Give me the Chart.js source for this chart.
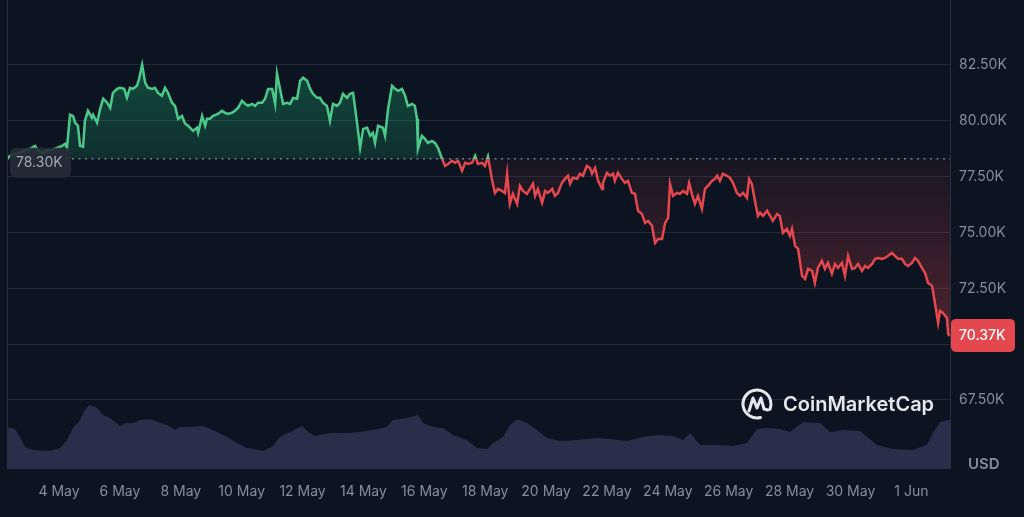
<!DOCTYPE html>
<html>
<head>
<meta charset="utf-8">
<script src="https://cdn.jsdelivr.net/npm/chart.js@4.4.1/dist/chart.umd.min.js"></script>
<style>
  html, body { margin: 0; padding: 0; background: #0d1421; }
  #wrap { width: 1024px; height: 517px; position: relative; }
</style>
</head>
<body>
<div id="wrap"><canvas id="priceChart"></canvas></div>
<script>
// ---- Data (x = day of month, May; 32 = 1 Jun) ----

const xTickDays = [4, 6, 8, 10, 12, 14, 16, 18, 20, 22, 24, 26, 28, 30, 32];
const xTickLabels = ['4 May', '6 May', '8 May', '10 May', '12 May', '14 May', '16 May', '18 May',
  '20 May', '22 May', '24 May', '26 May', '28 May', '30 May', '1 Jun'];
const yTicks = [67.5, 70, 72.5, 75, 77.5, 80, 82.5]; // thousands USD

const openPrice = 78.30;
const lastPrice = 70.37;

// [day, price in K USD]
const priceSeries = [
  [2.29,78.30],[2.39,78.43],[2.55,78.52],[2.72,78.57],[2.88,78.66],[3.05,78.75],[3.21,78.88],[3.31,78.66],
  [3.44,78.57],[3.61,78.66],[3.77,78.70],[3.93,78.79],[4.10,78.88],[4.20,78.97],[4.26,78.79],[4.36,80.27],
  [4.46,80.22],[4.53,79.91],[4.62,79.78],[4.69,78.88],[4.79,78.84],[4.85,80.00],[4.95,80.45],[5.08,80.13],
  [5.12,80.27],[5.25,79.91],[5.35,80.54],[5.45,80.99],[5.58,80.81],[5.68,80.58],[5.77,81.25],[5.91,81.43],
  [6.00,81.48],[6.14,81.43],[6.23,81.03],[6.33,81.48],[6.43,81.43],[6.56,81.57],[6.63,81.88],[6.73,82.51],
  [6.83,81.70],[6.92,81.48],[7.06,81.43],[7.15,81.48],[7.25,81.25],[7.38,81.12],[7.48,81.48],[7.58,81.25],
  [7.71,80.81],[7.81,80.67],[7.91,80.09],[8.04,80.22],[8.14,79.87],[8.24,79.78],[8.40,79.55],[8.53,79.69],
  [8.57,79.46],[8.70,80.22],[8.80,79.78],[8.86,80.09],[8.96,80.09],[9.06,80.22],[9.22,80.31],[9.35,80.45],
  [9.45,80.36],[9.55,80.31],[9.68,80.36],[9.78,80.45],[9.88,80.58],[10.01,80.90],[10.11,80.76],[10.21,80.67],
  [10.34,80.76],[10.44,80.67],[10.54,80.81],[10.67,80.81],[10.77,80.99],[10.87,81.43],[11.00,81.43],[11.10,80.76],
  [11.16,82.11],[11.26,81.43],[11.36,80.76],[11.49,80.81],[11.59,80.76],[11.69,81.03],[11.82,80.99],[11.92,81.79],
  [12.02,81.93],[12.15,81.79],[12.25,81.43],[12.34,81.21],[12.48,81.03],[12.57,81.03],[12.67,80.81],[12.80,80.67],
  [12.90,80.00],[13.00,80.76],[13.13,80.67],[13.23,80.81],[13.33,81.21],[13.46,81.03],[13.56,81.21],[13.66,81.25],
  [13.79,79.91],[13.89,78.79],[13.99,79.64],[14.12,79.69],[14.22,79.33],[14.31,79.46],[14.38,79.01],[14.48,79.78],
  [14.64,79.69],[14.71,79.33],[14.81,80.54],[14.94,81.57],[15.04,81.43],[15.14,81.34],[15.27,81.43],[15.37,81.12],
  [15.46,80.67],[15.60,80.76],[15.69,80.67],[15.76,80.09],[15.79,78.75],[15.92,79.33],[16.02,79.19],[16.12,79.01],
  [16.25,79.10],[16.35,79.01],[16.45,78.79],[16.58,78.30],[16.68,77.98],[16.78,78.07],[16.91,78.21],[17.01,78.12],
  [17.11,78.21],[17.24,77.76],[17.34,78.12],[17.44,78.07],[17.57,78.12],[17.67,78.43],[17.76,78.07],[17.90,78.12],
  [17.99,77.98],[18.09,78.40],[18.22,77.40],[18.32,76.77],[18.42,76.95],[18.55,76.86],[18.65,76.77],[18.72,77.63],
  [18.81,76.28],[18.91,76.73],[19.05,76.28],[19.14,77.09],[19.24,76.86],[19.37,76.73],[19.47,76.95],[19.57,77.18],
  [19.64,76.64],[19.73,76.95],[19.87,76.33],[19.97,76.86],[20.06,76.77],[20.20,76.95],[20.29,76.64],[20.39,76.77],
  [20.52,77.22],[20.62,77.40],[20.72,77.54],[20.79,77.18],[20.88,77.45],[21.02,77.40],[21.11,77.63],[21.21,77.54],
  [21.34,77.98],[21.44,77.89],[21.51,77.63],[21.61,77.89],[21.71,77.31],[21.84,76.95],[21.87,77.22],[22.00,77.67],
  [22.10,77.54],[22.20,77.63],[22.26,77.31],[22.36,77.67],[22.49,77.40],[22.59,77.22],[22.69,77.31],[22.82,76.77],
  [22.92,76.73],[23.02,75.97],[23.15,75.83],[23.25,75.43],[23.35,75.52],[23.48,75.30],[23.58,74.53],[23.68,74.71],
  [23.81,74.71],[23.91,75.43],[24.01,75.65],[24.07,77.18],[24.17,76.64],[24.30,76.77],[24.40,76.73],[24.50,76.86],
  [24.63,76.73],[24.70,77.22],[24.79,76.73],[24.89,76.28],[24.99,76.64],[25.12,76.06],[25.22,76.95],[25.32,77.09],
  [25.45,77.31],[25.55,77.40],[25.62,77.54],[25.71,77.31],[25.81,77.63],[25.94,77.54],[26.04,77.45],[26.14,77.22],
  [26.27,76.77],[26.37,76.64],[26.47,76.77],[26.60,76.55],[26.67,77.40],[26.76,77.18],[26.86,76.42],[26.96,75.74],
  [27.03,75.88],[27.13,75.74],[27.26,75.97],[27.36,75.74],[27.45,75.52],[27.59,75.83],[27.68,75.74],[27.78,74.98],
  [27.91,75.16],[28.01,74.85],[28.08,75.16],[28.18,74.40],[28.28,74.27],[28.41,73.06],[28.51,72.92],[28.61,73.37],
  [28.74,73.28],[28.83,72.74],[28.93,73.41],[29.06,73.73],[29.16,73.37],[29.26,73.64],[29.39,73.15],[29.49,73.59],
  [29.59,73.41],[29.72,73.64],[29.82,73.06],[29.92,73.95],[30.05,73.37],[30.15,73.41],[30.25,73.59],[30.38,73.28],
  [30.48,73.50],[30.58,73.41],[30.71,73.59],[30.81,73.82],[30.90,73.86],[31.04,73.82],[31.13,73.86],[31.23,73.95],
  [31.36,74.09],[31.46,73.95],[31.56,73.82],[31.69,73.82],[31.79,73.59],[31.89,73.50],[32.02,73.64],[32.12,73.86],
  [32.22,73.73],[32.35,73.41],[32.45,73.19],[32.55,72.74],[32.68,72.61],[32.78,71.80],[32.88,70.95],[32.94,71.49],
  [33.04,71.40],[33.17,71.17],[33.21,70.46],[33.27,70.37]
];

// [day, 24h volume in B USD]
const volumeSeries = [
  [2.29,21],[2.55,20],[2.72,16],[2.88,11],[3.15,9.5],[3.70,9],[4.03,10.5],[4.26,14.5],[4.46,20.5],[4.69,24.5],
  [4.85,29.5],[4.99,32],[5.25,30.5],[5.45,27],[5.68,25.5],[5.84,23.5],[6.00,21.5],[6.23,23],[6.43,23],[6.66,24.5],
  [6.99,25],[7.32,23],[7.55,22],[7.81,19.5],[7.97,21],[8.30,21],[8.73,21.5],[9.06,19.5],[9.52,16],[9.85,13],
  [10.18,10.5],[10.70,9],[11.00,11],[11.26,16],[11.59,18.5],[11.98,21.5],[12.18,18.5],[12.41,16.5],[12.90,18],
  [13.46,18],[13.89,18.5],[14.31,19.5],[14.77,21],[14.97,24.5],[15.43,25.5],[15.79,27],[15.96,23],[16.29,21],
  [16.61,20.5],[16.94,17],[17.40,14.5],[17.73,10.5],[18.06,10],[18.26,13],[18.59,16],[18.82,22],[19.05,25],
  [19.37,23],[19.70,19.5],[20.03,15.5],[20.46,14],[21.02,14.5],[21.67,15.5],[22.10,15],[22.66,14],[23.18,16],
  [23.64,17],[24.17,16.5],[24.50,14.5],[24.73,18],[25.06,12],[25.62,12],[26.14,11.5],[26.60,13],[26.93,20],
  [27.26,20.5],[27.68,20],[28.01,18.5],[28.44,23.5],[29.00,23],[29.33,18.5],[29.75,19.5],[30.31,19],[30.87,12],
  [31.40,10],[32.05,9.5],[32.51,12],[32.71,18],[32.94,23.5],[33.17,24.5],[33.27,24.5]
];

// ---- Style ----

const xMin = 2.29, xMax = 33.27;
const upColor = '#4cc98a';
const downColor = '#e5474e';
const labelColor = '#858ca2';
const gridColor = '#222a38';
const fontFamily = 'Inter, "Noto Sans", sans-serif';

const pricePoints = priceSeries.map(p => ({ x: p[0], y: p[1] }));
const volumePoints = volumeSeries.map(p => ({ x: p[0], y: p[1] }));
const minPrice = Math.min(...priceSeries.map(p => p[1]));
const maxPrice = Math.max(...priceSeries.map(p => p[1]));

function offsetOf(chart, value) {
  const { chartArea, scales } = chart;
  const px = scales.y.getPixelForValue(value);
  const o = (px - chartArea.top) / (chartArea.bottom - chartArea.top);
  return Math.min(Math.max(o, 0), 1);
}

function lineGradient(context) {
  const chart = context.chart;
  if (!chart.chartArea) return upColor;
  const { ctx, chartArea } = chart;
  const b = offsetOf(chart, openPrice);
  const g = ctx.createLinearGradient(0, chartArea.top, 0, chartArea.bottom);
  g.addColorStop(0, upColor);
  g.addColorStop(b, upColor);
  g.addColorStop(b, downColor);
  g.addColorStop(1, downColor);
  return g;
}

function areaGradient(context) {
  const chart = context.chart;
  if (!chart.chartArea) return 'rgba(0,0,0,0)';
  const { ctx, chartArea } = chart;
  const b = offsetOf(chart, openPrice);
  const hi = offsetOf(chart, maxPrice);
  const lo = offsetOf(chart, minPrice);
  const g = ctx.createLinearGradient(0, chartArea.top, 0, chartArea.bottom);
  g.addColorStop(0, 'rgba(30,190,120,0.34)');
  g.addColorStop(hi, 'rgba(30,190,120,0.32)');
  g.addColorStop(b, 'rgba(30,190,120,0.16)');
  g.addColorStop(b, 'rgba(229,71,78,0.05)');
  g.addColorStop(lo, 'rgba(229,71,78,0.30)');
  g.addColorStop(1, 'rgba(229,71,78,0.32)');
  return g;
}

// ---- Overlay: borders, price badges, watermark ----

const overlay = {
  id: 'overlay',
  afterDraw(chart) {
    const { ctx, chartArea, scales } = chart;
    ctx.save();

    // frame lines
    ctx.strokeStyle = '#2a3242';
    ctx.lineWidth = 1;
    ctx.beginPath();
    ctx.moveTo(chartArea.left + 0.5, chartArea.top);
    ctx.lineTo(chartArea.left + 0.5, chartArea.bottom);
    ctx.moveTo(chartArea.right + 0.5, chartArea.top);
    ctx.lineTo(chartArea.right + 0.5, chartArea.bottom);
    ctx.stroke();

    // open price badge
    const by = scales.y.getPixelForValue(openPrice);
    ctx.fillStyle = 'rgba(38,44,56,0.9)';
    ctx.beginPath();
    ctx.roundRect(chartArea.left + 3, by - 11, 61, 30, 6);
    ctx.fill();
    ctx.fillStyle = '#a3a9b5';
    ctx.font = '14px ' + fontFamily;
    ctx.textBaseline = 'middle';
    ctx.textAlign = 'left';
    ctx.fillText(openPrice.toFixed(2) + 'K', chartArea.left + 9, by + 4);

    // last price badge
    const ly = scales.y.getPixelForValue(lastPrice);
    ctx.fillStyle = '#e5474e';
    ctx.beginPath();
    ctx.roundRect(chartArea.right + 1, ly - 17, 64, 33, 5);
    ctx.fill();
    ctx.fillStyle = '#ffffff';
    ctx.font = '500 14px ' + fontFamily;
    ctx.fillText(lastPrice.toFixed(2) + 'K', chartArea.right + 9, ly);

    // currency label
    ctx.fillStyle = labelColor;
    ctx.font = '600 15px ' + fontFamily;
    ctx.fillText('USD', chartArea.right + 18, chartArea.bottom - 5);

    // watermark
    const cx = 757, cy = 404;
    ctx.strokeStyle = '#e4e7ec';
    ctx.lineWidth = 3;
    ctx.lineCap = 'round';
    ctx.lineJoin = 'round';
    ctx.beginPath();
    ctx.arc(cx, cy, 14, 0.42 * Math.PI, 2.12 * Math.PI);
    ctx.stroke();
    ctx.beginPath();
    ctx.moveTo(cx - 8, cy + 7);
    ctx.lineTo(cx - 4, cy - 6);
    ctx.lineTo(cx, cy + 4);
    ctx.lineTo(cx + 4, cy - 6);
    ctx.lineTo(cx + 7, cy + 5);
    ctx.lineTo(cx + 11, cy + 6);
    ctx.stroke();
    ctx.fillStyle = '#e4e7ec';
    ctx.font = '600 20px ' + fontFamily;
    ctx.fillText('CoinMarketCap', 783, cy + 1);

    ctx.restore();
  }
};

// ---- Chart ----

new Chart(document.getElementById('priceChart'), {
  type: 'line',
  data: {
    datasets: [
      {
        label: 'Price',
        data: pricePoints,
        yAxisID: 'y',
        borderColor: lineGradient,
        backgroundColor: areaGradient,
        fill: { target: { value: openPrice } },
        borderWidth: 2.5,
        pointRadius: 0,
        tension: 0,
        order: 0
      },
      {
        label: 'Open',
        data: [{ x: xMin, y: openPrice }, { x: xMax, y: openPrice }],
        yAxisID: 'y',
        borderColor: 'rgba(150,158,172,0.75)',
        borderDash: [2, 4.5],
        borderWidth: 1.5,
        pointRadius: 0,
        fill: false,
        order: 1
      },
      {
        label: 'Volume',
        data: volumePoints,
        yAxisID: 'yVol',
        borderWidth: 0,
        backgroundColor: '#272f4a',
        fill: 'origin',
        pointRadius: 0,
        tension: 0,
        order: 2
      }
    ]
  },
  options: {
    responsive: true,
    maintainAspectRatio: false,
    animation: false,
    layout: { padding: { left: 7, top: 0, right: 0, bottom: 0 } },
    plugins: {
      legend: { display: false },
      tooltip: { enabled: false }
    },
    scales: {
      x: {
        type: 'linear',
        min: xMin,
        max: xMax,
        afterBuildTicks: scale => { scale.ticks = xTickDays.map(v => ({ value: v })); },
        afterFit: scale => {
          scale.height = 48;
          scale.paddingLeft = 0;
          scale.paddingRight = 0;
        },
        ticks: {
          autoSkip: false,
          maxRotation: 0,
          padding: 14,
          color: labelColor,
          font: { family: fontFamily, size: 14 },
          callback: (v, i) => xTickLabels[i]
        },
        grid: { display: false, drawTicks: false },
        border: { display: false }
      },
      y: {
        position: 'right',
        min: 64.41,
        max: 85.41,
        afterBuildTicks: scale => { scale.ticks = yTicks.map(v => ({ value: v })); },
        afterFit: scale => {
          scale.width = 74;
          scale.paddingTop = 0;
          scale.paddingBottom = 0;
        },
        ticks: {
          padding: 9,
          color: labelColor,
          font: { family: fontFamily, size: 14 },
          callback: v => v.toFixed(2) + 'K'
        },
        grid: { color: gridColor, lineWidth: 1, drawTicks: false },
        border: { display: false }
      },
      yVol: {
        display: false,
        min: 0,
        max: 234.5
      }
    }
  },
  plugins: [overlay]
});
</script>
</body>
</html>
